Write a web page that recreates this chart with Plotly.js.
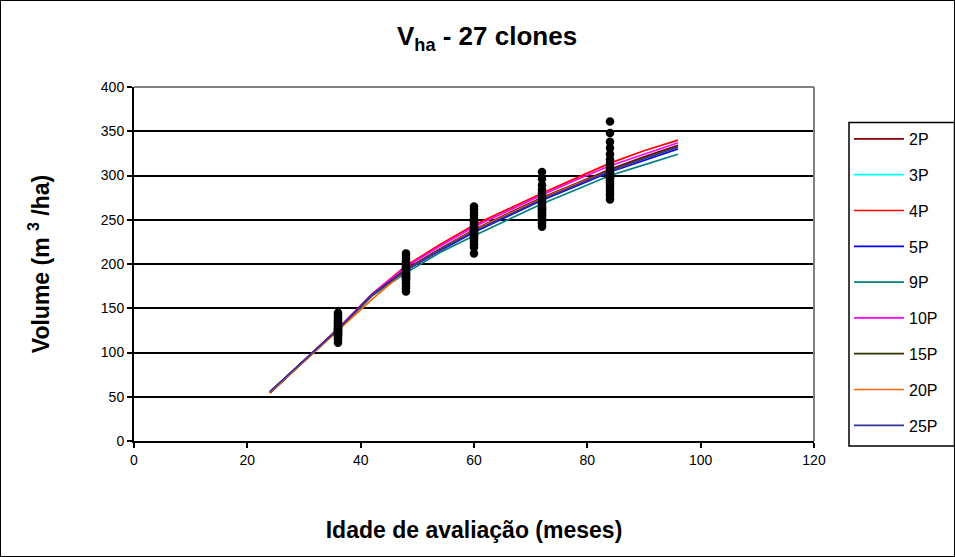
<!DOCTYPE html>
<html>
<head>
<meta charset="utf-8">
<script src="https://cdn.plot.ly/plotly-3.0.1.min.js"></script>
<style>
  html, body { margin: 0; padding: 0; background: #ffffff; }
  #wrap { position: relative; width: 955px; height: 557px; }
  #chart { width: 955px; height: 557px; }
  #frame { position: absolute; left: 0; top: 0; width: 955px; height: 557px;
           box-sizing: border-box; border: 1px solid #000; pointer-events: none; }
</style>
</head>
<body>
<div id="wrap">
  <div id="chart"></div>
  <div id="frame"></div>
</div>
<script>
// Ages (months) at which each fitted model is evaluated
const ages = [24, 30, 36, 42, 48, 54, 60, 66, 72, 78, 84, 90, 96];

// Fitted volume curves (m3/ha), one per model
const seriesNames = ["2P", "3P", "4P", "5P", "9P", "10P", "15P", "20P", "25P"];
const v2P  = [54, 90, 126, 165, 194, 217, 239, 257, 275, 291, 307, 321, 334];
const v3P  = [55, 90, 126, 165, 193, 216, 237, 255, 273, 289, 304, 318, 331];
const v4P  = [55, 91, 127, 166, 198, 222, 244, 262, 280, 297, 314, 328, 340];
const v5P  = [55, 90, 126, 165, 193, 215, 236, 254, 272, 288, 304, 317, 330];
const v9P  = [55, 90, 125, 164, 190, 213, 232, 250, 268, 284, 300, 312, 324];
const v10P = [55, 91, 127, 166, 197, 220, 242, 260, 278, 295, 311, 324, 337];
const v15P = [55, 90, 126, 165, 194, 217, 238, 256, 274, 290, 306, 320, 333];
const v20P = [55, 90, 124, 160, 193, 216, 238, 256, 274, 290, 305, 319, 332];
const v25P = [56, 91, 126, 165, 193, 216, 237, 255, 273, 289, 305, 319, 332];
const seriesColors = ["#800000", "#00FFFF", "#FF0000", "#0000FF", "#008080",
                      "#FF00FF", "#333300", "#FF6600", "#333399"];

// Observed volume of the 27 clones at each measurement age
const obsAges = [36, 48, 60, 72, 84];
const obs36 = [111, 114, 116, 118, 119, 120, 121, 122, 122, 123, 124, 125, 126, 126,
               127, 128, 129, 130, 131, 133, 134, 136, 137, 139, 141, 143, 145];
const obs48 = [169, 172, 175, 178, 180, 182, 183, 184, 185, 186, 187, 188, 189, 190,
               191, 192, 193, 194, 195, 196, 198, 199, 201, 203, 206, 209, 212];
const obs60 = [212, 219, 222, 225, 227, 229, 231, 232, 233, 234, 235, 236, 237, 238,
               239, 240, 242, 243, 244, 246, 248, 250, 252, 255, 258, 262, 265];
const obs72 = [242, 244, 246, 248, 250, 252, 254, 255, 257, 258, 260, 261, 262, 263,
               264, 266, 268, 269, 271, 273, 275, 277, 280, 284, 289, 296, 304];
const obs84 = [273, 277, 280, 283, 286, 289, 291, 293, 295, 297, 298, 299, 300, 301,
               302, 303, 305, 307, 309, 311, 314, 318, 324, 331, 338, 348, 361];

const yTicks = [0, 50, 100, 150, 200, 250, 300, 350, 400];
const xTicks = [0, 20, 40, 60, 80, 100, 120];

const FONT = "Arial, 'Liberation Sans', sans-serif";

// Plot-area geometry in pixels (used to place the legend frame in paper units)
const W = 955, H = 557;
const M = { l: 134, r: 141, t: 87, b: 116 };
const plotW = W - M.l - M.r;
const plotH = H - M.t - M.b;
const toPaperX = px => (px - M.l) / plotW;
const toPaperY = py => (H - M.b - py) / plotH;

const curves = [v2P, v3P, v4P, v5P, v9P, v10P, v15P, v20P, v25P];
const traces = curves.map((vals, i) => ({
  type: "scatter",
  mode: "lines",
  x: ages,
  y: vals,
  name: seriesNames[i],
  legendgroup: seriesNames[i],
  line: { color: seriesColors[i], width: 1.7 },
  hoverinfo: "x+y+name"
}));

// Observed points: every clone value placed at its age
const obsGroups = [obs36, obs48, obs60, obs72, obs84];
const obsX = [];
const obsY = [];
obsGroups.forEach((grp, k) => {
  grp.forEach(v => { obsX.push(obsAges[k]); obsY.push(v); });
});
traces.push({
  type: "scatter",
  mode: "markers",
  x: obsX,
  y: obsY,
  showlegend: false,
  marker: { color: "#000000", size: 8.5, symbol: "circle" },
  hoverinfo: "x+y"
});

const layout = {
  width: W,
  height: H,
  paper_bgcolor: "#ffffff",
  plot_bgcolor: "#ffffff",
  margin: { l: M.l, r: M.r, t: M.t, b: M.b, pad: 0 },
  font: { family: FONT, size: 14, color: "#000000" },
  title: {
    text: "V<sub>ha</sub> - 27 clones",
    font: { family: FONT, size: 26, color: "#000000", weight: "bold" },
    x: 0.51, xref: "container", xanchor: "center",
    y: 0.935, yref: "container", yanchor: "middle"
  },
  xaxis: {
    range: [0, 120],
    tickvals: xTicks,
    ticktext: xTicks.map(String),
    showgrid: false,
    zeroline: false,
    showline: true,
    linecolor: "#000000",
    linewidth: 2,
    ticks: "outside",
    ticklen: 5,
    tickwidth: 2,
    tickcolor: "#000000",
    tickfont: { family: FONT, size: 14, color: "#000000" },
    title: {
      text: "Idade de avaliação (meses)",
      font: { family: FONT, size: 23, color: "#000000", weight: "bold" },
      standoff: 55
    },
    fixedrange: true
  },
  yaxis: {
    range: [0, 400],
    tickvals: yTicks,
    ticktext: yTicks.map(String),
    showgrid: true,
    gridcolor: "#000000",
    gridwidth: 2,
    zeroline: false,
    showline: true,
    linecolor: "#000000",
    linewidth: 2,
    ticks: "outside",
    ticklen: 5,
    tickwidth: 2,
    tickcolor: "#000000",
    tickfont: { family: FONT, size: 14, color: "#000000" },
    title: {
      text: "Volume (m <sup>3</sup> /ha)",
      font: { family: FONT, size: 23, color: "#000000", weight: "bold" },
      standoff: 45
    },
    fixedrange: true
  },
  shapes: [
    // plot-area border on the top and right sides
    { type: "line", xref: "paper", yref: "paper", x0: 0, x1: 1, y0: 1, y1: 1,
      line: { color: "#808080", width: 2 }, layer: "above" },
    { type: "line", xref: "paper", yref: "paper", x0: 1, x1: 1, y0: 0, y1: 1,
      line: { color: "#808080", width: 2 }, layer: "above" },
    // legend frame, running out to the chart's right edge
    { type: "rect", xref: "paper", yref: "paper",
      x0: toPaperX(849), x1: toPaperX(954.5),
      y0: toPaperY(446), y1: toPaperY(122.5),
      line: { color: "#000000", width: 1.5 }, fillcolor: "rgba(0,0,0,0)",
      layer: "above" }
  ],
  showlegend: true,
  legend: {
    xref: "container", yref: "container",
    x: 849 / W, xanchor: "left",
    y: 1 - 122 / H, yanchor: "top",
    bgcolor: "rgba(0,0,0,0)",
    borderwidth: 0,
    font: { family: FONT, size: 16, color: "#000000" },
    traceorder: "grouped",
    tracegroupgap: 12,
    itemwidth: 50,
    maxheight: 1
  },
  hovermode: "closest"
};

Plotly.newPlot("chart", traces, layout, { displayModeBar: false, staticPlot: true });
</script>
</body>
</html>
